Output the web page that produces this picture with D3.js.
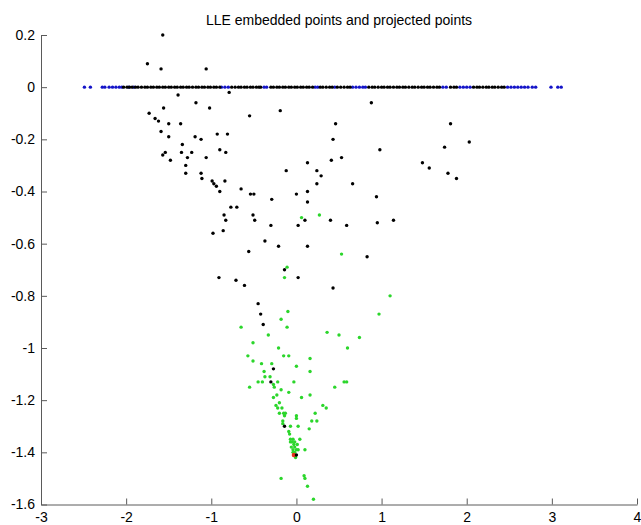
<!DOCTYPE html>
<html>
<head>
<meta charset="utf-8">
<script src="https://cdn.jsdelivr.net/npm/d3@7"></script>
<style>
  body { margin: 0; background: #fff; }
  svg { display: block; font-family: "Liberation Sans", Arial, sans-serif; }
</style>
</head>
<body>
<div id="chart"></div>
<script>
'use strict';

var chartTitle = "LLE embedded points and projected points";
var xTicks = [-3, -2, -1, 0, 1, 2, 3, 4];
var yTicks = [0.2, 0, -0.2, -0.4, -0.6, -0.8, -1, -1.2, -1.4, -1.6];

// embedded points that sit on y = 0 (black)
var lineBlackX = [-2.03, -1.99, -1.96, -1.93, -1.89, -1.86, -1.82, -1.78, -1.75, -1.71, -1.68, -1.64,
  -1.61, -1.57, -1.54, -1.50, -1.47, -1.43, -1.40, -1.36, -1.33, -1.29, -1.26, -1.22, -1.18, -1.15,
  -1.11, -1.08, -1.04, -1.01, -0.97, -0.94, -0.90, -0.76, -0.72, -0.68, -0.65, -0.61, -0.58, -0.54,
  -0.51, -0.47, -0.44, -0.42, -0.30, -0.27, -0.23, -0.20, -0.16, -0.13, -0.09, -0.06, -0.02, 0.01,
  0.05, 0.08, 0.12, 0.15, 0.19, 0.28, 0.31, 0.35, 0.39, 0.42, 0.48, 0.52, 0.56, 0.60, 0.63, 0.85,
  0.89, 0.92, 0.96, 1.00, 1.03, 1.07, 1.10, 1.14, 1.18, 1.21, 1.25, 1.28, 1.32, 1.36, 1.39, 1.43,
  1.47, 1.50, 1.54, 1.57, 1.61, 1.65, 1.68, 1.81, 1.85, 1.88, 2.08, 2.12, 2.15, 2.19, 2.23, 2.26,
  2.30, 2.33, 2.37, 2.41, 2.44];

// projected points on y = 0 (blue)
var lineBlueX = [-2.49, -2.42, -2.28, -2.25, -2.20, -2.16, -2.12, -2.08, -2.05, -1.97, -1.91,
  -0.88, -0.84, -0.80, -0.38, -0.35, 0.22, 0.25, 0.45, 0.66, 0.70, 0.74, 0.78, 0.81, 1.72, 1.76,
  1.92, 1.96, 2.00, 2.04, 2.48, 2.52, 2.56, 2.60, 2.64, 2.68, 2.72, 2.77, 2.81, 2.99, 3.07, 3.11];

// embedded points off the line (black)
var blackPts = [
  [-1.75, 0.09], [-1.57, 0.20], [-1.59, 0.07], [-1.06, 0.07], [-1.39, -0.03], [-0.79, -0.02],
  [-1.18, -0.06], [-1.56, -0.08], [-1.02, -0.08], [-1.73, -0.10], [-1.66, -0.12], [-1.62, -0.13],
  [-1.50, -0.14], [-1.36, -0.14], [-0.55, -0.11], [-0.19, -0.09], [-1.59, -0.17], [-1.50, -0.19],
  [-1.19, -0.19], [-1.12, -0.20], [-0.93, -0.18], [-0.81, -0.18], [-1.34, -0.22], [-1.35, -0.25],
  [-1.23, -0.25], [-1.54, -0.25], [-1.57, -0.26], [-1.28, -0.27], [-1.48, -0.28], [-1.06, -0.27],
  [-0.90, -0.24], [-0.83, -0.25], [-1.30, -0.30], [-1.30, -0.33], [-1.12, -0.33], [-1.11, -0.35],
  [-0.99, -0.36], [-0.97, -0.37], [-0.94, -0.38], [-0.90, -0.40], [-0.84, -0.36], [-0.65, -0.39],
  [-0.54, -0.41], [-0.50, -0.41], [-0.29, -0.43], [-0.12, -0.32], [0.00, -0.41], [-0.77, -0.46],
  [-0.70, -0.46], [-0.85, -0.49], [-0.83, -0.51], [-0.51, -0.49], [-0.49, -0.51], [-0.30, -0.53],
  [0.02, -0.53], [-0.98, -0.56], [-0.86, -0.55], [-0.37, -0.59], [-0.21, -0.61], [-0.56, -0.63],
  [-0.14, -0.70], [0.13, -0.29], [0.24, -0.32], [0.24, -0.37], [0.13, -0.40], [0.13, -0.44],
  [0.10, -0.51], [0.13, -0.61], [0.02, -0.73], [-0.91, -0.73], [-0.71, -0.74], [-0.61, -0.76],
  [-0.45, -0.83], [0.88, -0.06], [0.46, -0.14], [1.81, -0.14], [0.43, -0.20], [0.98, -0.24],
  [1.74, -0.23], [2.03, -0.21], [0.41, -0.28], [0.53, -0.27], [1.48, -0.29], [1.56, -0.31],
  [0.29, -0.34], [0.66, -0.37], [1.78, -0.33], [1.88, -0.35], [0.94, -0.42], [0.40, -0.51],
  [0.59, -0.53], [0.95, -0.52], [1.14, -0.51], [0.83, -0.65], [0.43, -0.77], [-0.42, -0.87],
  [-0.39, -0.91], [-0.27, -1.08], [-0.30, -1.13], [-0.14, -1.30], [0.00, -1.41]
];

// projected points (green)
var greenPts = [
  [0.06, -0.50], [0.27, -0.49], [0.53, -0.64], [-0.11, -0.69], [-0.14, -0.73], [1.10, -0.80],
  [0.97, -0.87], [-0.10, -0.86], [-0.18, -0.89], [-0.11, -0.92], [-0.65, -0.92], [-0.33, -0.95],
  [-0.51, -0.98], [0.36, -0.94], [0.50, -0.95], [0.74, -0.96], [0.60, -1.00], [-0.21, -1.00],
  [-0.15, -1.03], [-0.09, -1.03], [-0.57, -1.03], [-0.51, -1.05], [-0.41, -1.06], [-0.29, -1.06],
  [0.16, -1.04], [0.00, -1.07], [-0.38, -1.09], [-0.37, -1.11], [-0.31, -1.11], [0.16, -1.09],
  [-0.40, -1.13], [-0.45, -1.13], [-0.55, -1.15], [-0.27, -1.14], [-0.22, -1.13], [-0.26, -1.15],
  [-0.03, -1.13], [0.59, -1.13], [0.56, -1.13], [0.45, -1.15], [-0.18, -1.16], [-0.23, -1.18],
  [-0.09, -1.17], [-0.27, -1.19], [0.16, -1.18], [0.06, -1.19], [-0.20, -1.21], [-0.24, -1.22],
  [-0.22, -1.23], [0.31, -1.22], [0.35, -1.23], [-0.17, -1.23], [-0.15, -1.25], [-0.20, -1.25],
  [-0.13, -1.25], [0.22, -1.25], [-0.14, -1.26], [-0.16, -1.28], [-0.16, -1.29], [0.00, -1.26],
  [0.00, -1.27], [0.02, -1.30], [0.18, -1.28], [0.24, -1.28], [-0.07, -1.30], [-0.09, -1.32],
  [-0.08, -1.33], [0.15, -1.31], [-0.04, -1.35], [0.04, -1.35], [-0.07, -1.36], [-0.05, -1.36],
  [-0.03, -1.37], [-0.06, -1.38], [-0.02, -1.38], [0.01, -1.37], [-0.04, -1.39], [0.02, -1.39],
  [0.10, -1.39], [-0.02, -1.40], [-0.01, -1.42], [-0.07, -1.35], [-0.04, -1.40], [0.00, -1.39],
  [-0.02, -1.36], [-0.18, -1.50], [0.09, -1.49], [0.10, -1.50], [0.13, -1.53], [0.20, -1.58]
];

var redPts = [[-0.03, -1.41]];

var width = 641, height = 525;
var svg = d3.select("#chart").append("svg")
  .attr("width", width)
  .attr("height", height);

var x = d3.scaleLinear().domain([-3, 4]).range([41, 637]);
var y = d3.scaleLinear().domain([-1.6, 0.2]).range([504.5, 35]);

var axisColor = "#5a5a5a";

var xAxis = svg.append("g")
  .attr("transform", "translate(0," + y(-1.6) + ")")
  .call(d3.axisBottom(x).tickValues(xTicks).tickSizeInner(-6).tickSizeOuter(0)
    .tickPadding(8).tickFormat(function(d) { return String(d); }));

var yAxis = svg.append("g")
  .attr("transform", "translate(" + x(-3) + ",0)")
  .call(d3.axisLeft(y).tickValues(yTicks).tickSizeInner(-6).tickSizeOuter(0)
    .tickPadding(6).tickFormat(function(d) { return d === 0 ? "0" : String(+d.toFixed(1)); }));

[xAxis, yAxis].forEach(function(g) {
  g.select(".domain").attr("stroke", axisColor);
  g.selectAll(".tick line").attr("stroke", axisColor);
  g.selectAll(".tick text").attr("fill", "#000")
    .style("font-size", "14px")
    .style("font-family", "'Liberation Sans', Arial, sans-serif");
});

svg.append("text")
  .attr("x", (x(-3) + x(4)) / 2)
  .attr("y", 25)
  .attr("text-anchor", "middle")
  .style("font-size", "14px")
  .text(chartTitle);

function dots(cls, pts, color, r) {
  svg.append("g").attr("class", cls)
    .selectAll("circle")
    .data(pts)
    .enter()
    .append("circle")
    .attr("cx", function(d) { return x(d[0]); })
    .attr("cy", function(d) { return y(d[1]); })
    .attr("r", r)
    .attr("fill", color);
}

dots("green", greenPts, "#2bd62b", 1.7);
dots("red", redPts, "#e8301c", 2.2);
dots("blue-line", lineBlueX.map(function(v) { return [v, 0]; }), "#1414c8", 1.7);
dots("black-line", lineBlackX.map(function(v) { return [v, 0]; }), "#000", 1.7);
dots("black", blackPts, "#000", 1.7);
</script>
</body>
</html>
